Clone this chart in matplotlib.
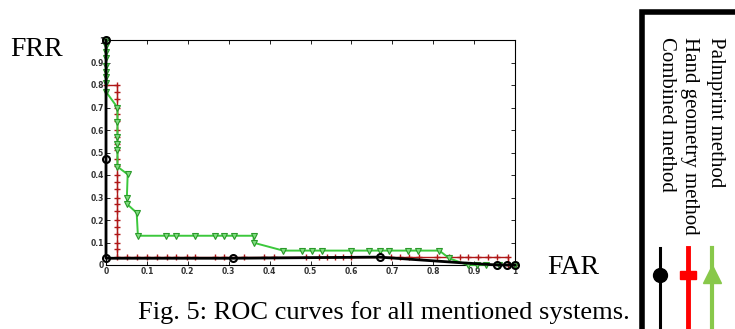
import matplotlib
matplotlib.use("Agg")
import matplotlib.pyplot as plt
from matplotlib.patches import Rectangle
from matplotlib.lines import Line2D

# Palmprint method (green, triangle markers)
palm_x = [0.0, 0.0, 0.0, 0.0, 0.0, 0.0, 0.0, 0.0, 0.0, 0.028, 0.028, 0.028, 0.028, 0.028, 0.028,
          0.053, 0.051, 0.052, 0.075, 0.078, 0.147, 0.172, 0.218, 0.267, 0.289, 0.314, 0.361,
          0.361, 0.433, 0.48, 0.504, 0.527, 0.598, 0.643, 0.669, 0.692, 0.739, 0.764, 0.815,
          0.839, 0.884, 0.906, 0.93, 0.96, 1.0]
palm_y = [1.0, 0.975, 0.945, 0.92, 0.885, 0.86, 0.835, 0.81, 0.77, 0.70, 0.635, 0.57, 0.54, 0.51,
          0.437, 0.403, 0.30, 0.27, 0.232, 0.13, 0.13, 0.13, 0.13, 0.13, 0.13, 0.13, 0.13,
          0.099, 0.064, 0.064, 0.064, 0.064, 0.064, 0.064, 0.064, 0.064, 0.064, 0.064, 0.064,
          0.03, 0.0, 0.0, 0.0, 0.0, 0.0]

# Hand geometry method (red, plus markers)
hand_x = [0.0, 0.028, 0.028, 0.028, 0.028, 0.028, 0.028, 0.028, 0.028, 0.028, 0.028, 0.028,
          0.028, 0.028, 0.028, 0.028, 0.028, 0.028, 0.028, 0.028, 0.028, 0.028, 0.028, 0.028,
          0.028, 0.051, 0.075, 0.10, 0.124, 0.149, 0.172, 0.198, 0.218, 0.267, 0.289, 0.338,
          0.387, 0.41, 0.49, 0.52, 0.54, 0.56, 0.58, 0.60, 0.696, 0.72, 0.74, 0.765, 0.81,
          0.839, 0.865, 0.885, 0.91, 0.934, 0.957, 0.982, 0.982, 1.0]
hand_y = [0.80, 0.80, 0.77, 0.74, 0.70, 0.67, 0.64, 0.60, 0.57, 0.54, 0.51, 0.47, 0.44, 0.40,
          0.37, 0.34, 0.30, 0.27, 0.24, 0.20, 0.17, 0.14, 0.10, 0.07, 0.035, 0.035, 0.035,
          0.035, 0.035, 0.035, 0.035, 0.035, 0.035, 0.035, 0.035, 0.035, 0.035, 0.035, 0.035,
          0.035, 0.035, 0.035, 0.035, 0.035, 0.035, 0.035, 0.035, 0.035, 0.035, 0.035, 0.035,
          0.035, 0.035, 0.035, 0.035, 0.035, 0.0, 0.0]

# Combined method (black, circle markers)
comb_x = [0.0, 0.0, 0.0, 0.31, 0.669, 0.868, 0.957, 0.981, 1.0]
comb_y = [1.0, 0.47, 0.03, 0.03, 0.035, 0.01, 0.0, 0.0, 0.0]
comb_marker_idx = [0, 1, 2, 3, 4, 6, 7, 8]

xticks = [0, 0.1, 0.2, 0.3, 0.4, 0.5, 0.6, 0.7, 0.8, 0.9, 1]
xticklabels = ["0", "0.1", "0.2", "0.3", "0.4", "0.5", "0.6", "0.7", "0.8", "0.9", "1"]
yticks = [0, 0.1, 0.2, 0.3, 0.4, 0.5, 0.6, 0.7, 0.8, 0.9, 1]
yticklabels = ["0", "0.1", "0.2", "0.3", "0.4", "0.5", "0.6", "0.7", "0.8", "0.9", "1"]

legend_labels = ["Palmprint method", "Hand geometry method", "Combined method"]

W, H = 735, 329
fig = plt.figure(figsize=(W / 100, H / 100), dpi=100)
ax = fig.add_axes([106 / W, 1 - 265 / H, (515 - 106) / W, (265 - 40) / H])

green = "#3cc83c"
red = "#b01818"
ax.plot(hand_x, hand_y, color=red, lw=1.0, marker="+", ms=4, mew=1.0, zorder=3, clip_on=False)
ax.plot(palm_x, palm_y, color=green, lw=1.4, marker="v", ms=4.5, mfc="#7fdc7f",
        mec="#2a9a2a", mew=0.8, zorder=4, clip_on=False)
ax.plot(comb_x, comb_y, color="black", lw=2.0, marker="o", ms=5, mfc="none", mec="black",
        mew=1.5, markevery=comb_marker_idx, zorder=5, clip_on=False)

ax.set_xlim(0, 1)
ax.set_ylim(0, 1)
ax.set_xticks(xticks)
ax.set_xticklabels(xticklabels)
ax.set_yticks(yticks)
ax.set_yticklabels(yticklabels)
ax.tick_params(direction="in", length=3, width=0.6, labelsize=5.5, pad=1.5,
               top=True, right=True)
for s in ax.spines.values():
    s.set_linewidth(0.8)
for lab in ax.get_xticklabels() + ax.get_yticklabels():
    lab.set_fontweight("bold")
    lab.set_color("#333333")

serif = "Liberation Serif"
fig.text(10 / W, 1 - 50 / H, "FRR", fontsize=20, family=serif, va="center", ha="left")
fig.text(547 / W, 1 - 267 / H, "FAR", fontsize=20, family=serif, va="center", ha="left")
fig.text(384 / W, 1 - 313 / H, "Fig. 5: ROC curves for all mentioned systems.",
         fontsize=19, family=serif, va="center", ha="center")

# rotated legend box
fig.patches.append(Rectangle((642 / W, -0.1), 0.2, 1.1 - 12 / H, transform=fig.transFigure,
                             fill=False, ec="black", lw=4, figure=fig))
xs = [715, 690, 667]
for x, lab in zip(xs, legend_labels):
    fig.text(x / W, 1 - 37 / H, lab, rotation=270, fontsize=15, family=serif,
             va="top", ha="center")

def vline(x, color, lw):
    fig.lines.append(Line2D([x / W, x / W], [1 - 248 / H, 0], transform=fig.transFigure,
                            color=color, lw=lw, figure=fig))

vline(660, "black", 2.2)
fig.lines.append(Line2D([660 / W], [1 - 275 / H], transform=fig.transFigure, marker="o",
                        ms=10, color="black", figure=fig))
vline(688, "#ff0000", 3.5)
fig.patches.append(Rectangle((680 / W, 1 - 279 / H), 16 / W, 8 / H, transform=fig.transFigure,
                             color="#ff0000", figure=fig))
vline(712, "#88c84a", 3)
fig.lines.append(Line2D([712 / W], [1 - 274 / H], transform=fig.transFigure, marker="^",
                        ms=13, color="#88c84a", figure=fig))

fig.savefig("out.png", dpi=100)
